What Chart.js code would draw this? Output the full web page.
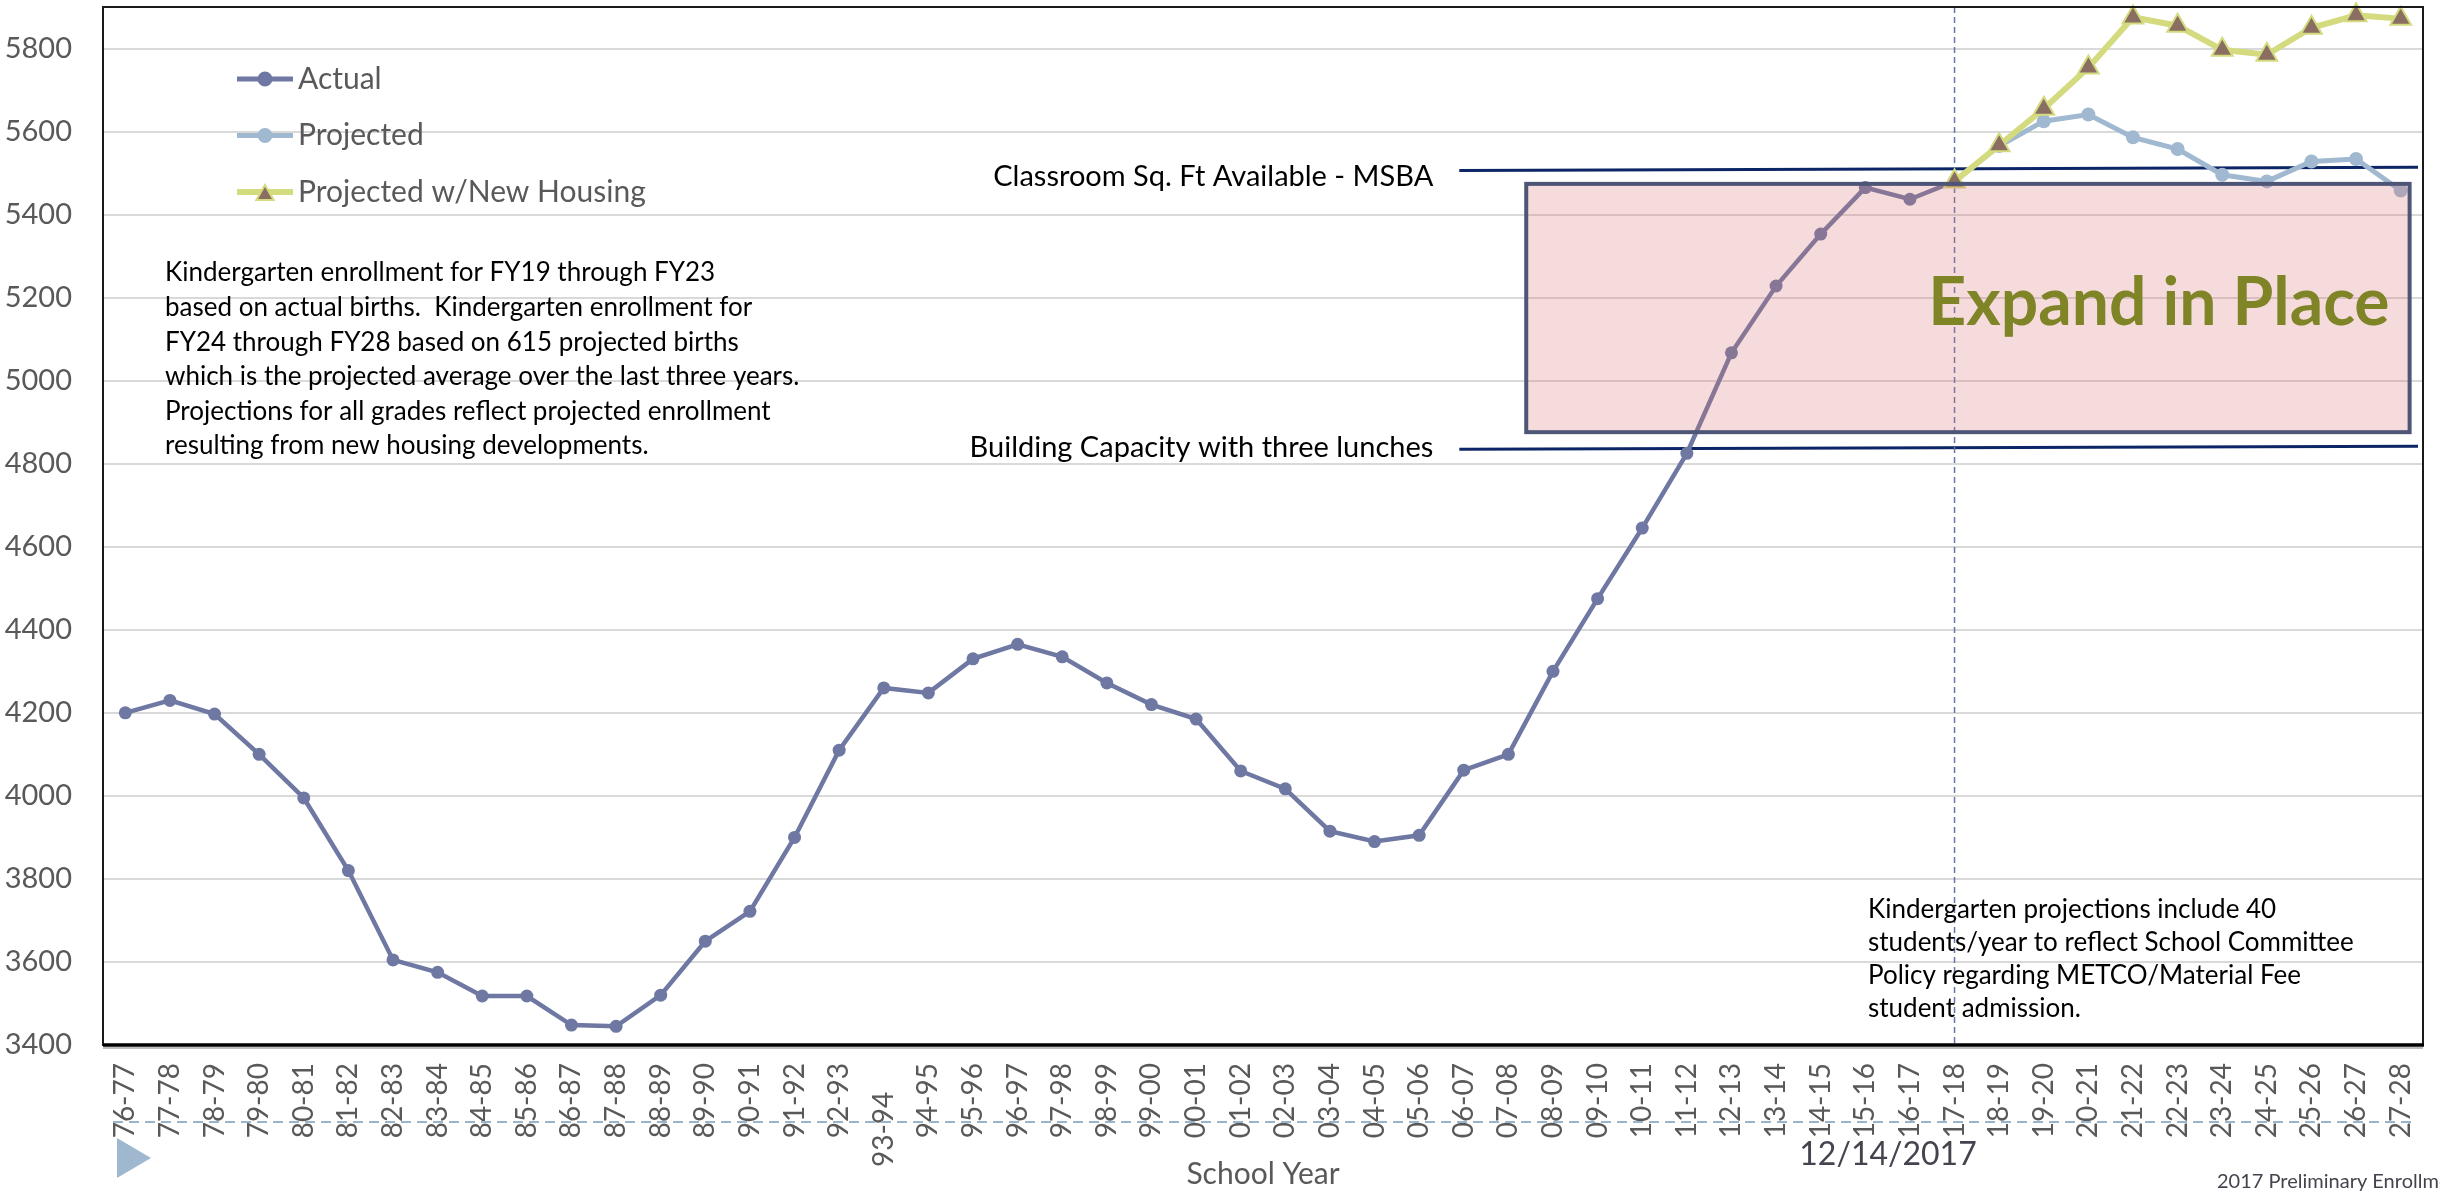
<!DOCTYPE html>
<html lang="en">
<head>
<meta charset="utf-8">
<title>Enrollment by School Year</title>
<script src="https://cdn.jsdelivr.net/npm/chart.js@4.4.1/dist/chart.umd.min.js"></script>
<style>
    html, body { margin: 0; padding: 0; background: #fff; }
    #chartWrap { width: 2440px; height: 1192px; }
</style>
</head>
<body>
<div id="chartWrap"><canvas id="chartEnrollment" width="2440" height="1192"></canvas></div>
<script>
'use strict';

/* ── Data ── */
var SCHOOL_YEARS = [
    '76-77', '77-78', '78-79', '79-80', '80-81', '81-82', '82-83', '83-84', '84-85', '85-86',
    '86-87', '87-88', '88-89', '89-90', '90-91', '91-92', '92-93', '93-94    ', '94-95', '95-96',
    '96-97', '97-98', '98-99', '99-00', '00-01', '01-02', '02-03', '03-04', '04-05', '05-06',
    '06-07', '07-08', '08-09', '09-10', '10-11', '11-12', '12-13', '13-14', '14-15', '15-16',
    '16-17', '17-18', '18-19', '19-20', '20-21', '21-22', '22-23', '23-24', '24-25', '25-26',
    '26-27', '27-28'
];

/* Actual enrollment 76-77 → 17-18 */
var ACTUAL = [
    4200, 4230, 4197, 4100, 3995, 3820, 3605, 3575, 3518, 3518,
    3448, 3445, 3520, 3650, 3722, 3900, 4110, 4260, 4248, 4330,
    4365, 4335, 4272, 4220, 4185, 4060, 4017, 3915, 3890, 3905,
    4062, 4100, 4300, 4475, 4645, 4825, 5067, 5228, 5353, 5465,
    5437, 5480
];

/* Projections 17-18 → 27-28 */
var PROJECTION_START = 41;
var PROJECTED   = [5480, 5565, 5625, 5641, 5586, 5558, 5496, 5480, 5528, 5534, 5458];
var NEW_HOUSING = [5480, 5567, 5655, 5754, 5875, 5855, 5797, 5785, 5850, 5880, 5872];

/* Y axis */
var Y_MIN = 3400;
var Y_MAX = 5900;
var Y_TICKS = [3400, 3600, 3800, 4000, 4200, 4400, 4600, 4800, 5000, 5200, 5400, 5600, 5800];

/* Reference levels (start value, end value) and the "Expand in Place" zone */
var MSBA_LEVEL     = [5506, 5514];
var CAPACITY_LEVEL = [4835, 4842];
var LEVEL_FROM     = 29.9;             // index where the level lines begin
var EXPAND_ZONE    = { from: 31.4, to: 51.2, low: 4876, high: 5474 };

var NOTE_LEFT = [
    'Kindergarten enrollment for FY19 through FY23',
    'based on actual births.  Kindergarten enrollment for',
    'FY24 through FY28 based on 615 projected births',
    'which is the projected average over the last three years.',
    'Projections for all grades reflect projected enrollment',
    'resulting from new housing developments.'
];
var NOTE_RIGHT = [
    'Kindergarten projections include 40',
    'students/year to reflect School Committee',
    'Policy regarding METCO/Material Fee',
    'student admission.'
];

/* ── Palette ── */
var C_ACTUAL    = '#6e78a2';
var C_PROJ      = '#a0b9d0';
var C_HOUSING   = '#d4db7e';
var C_TRIANGLE  = '#8a6e62';
var C_NAVY      = '#0c2566';
var C_TEXT_GRAY = '#595959';
var FONT        = 'Lato, "Open Sans", sans-serif';

Chart.defaults.font.family = FONT;

function projectionPoints(values) {
    return values.map(function (v, i) {
        return { x: SCHOOL_YEARS[PROJECTION_START + i], y: v };
    });
}

/* ── Legend entries (drawn by hand inside the plot) ── */
var LEGEND = [
    { text: 'Actual', color: C_ACTUAL, width: 5, style: 'circle', radius: 6.5, fill: C_ACTUAL, border: C_ACTUAL },
    { text: 'Projected', color: C_PROJ, width: 5, style: 'circle', radius: 6.5, fill: C_PROJ, border: C_PROJ },
    { text: 'Projected w/New Housing', color: C_HOUSING, width: 6, style: 'triangle', radius: 10, fill: C_TRIANGLE, border: C_HOUSING }
];

function drawLevel(ctx, xs, ys, area, level) {
    ctx.beginPath();
    ctx.moveTo(xs.getPixelForValue(LEVEL_FROM), ys.getPixelForValue(level[0]));
    ctx.lineTo(area.right - 5, ys.getPixelForValue(level[1]));
    ctx.stroke();
}

/* No extra room around the scales: the plot box is fixed by hand */
function noScalePadding(scale) {
    scale.paddingTop = 0;
    scale.paddingBottom = 0;
    scale.paddingLeft = 0;
    scale.paddingRight = 0;
}

var decorPlugin = {
    id: 'decor',
    beforeDatasetsDraw: function (chart) {
        var ctx = chart.ctx, xs = chart.scales.x, ys = chart.scales.y, a = chart.chartArea;
        ctx.save();

        /* Level lines */
        ctx.strokeStyle = C_NAVY;
        ctx.lineWidth = 3;
        drawLevel(ctx, xs, ys, a, MSBA_LEVEL);
        drawLevel(ctx, xs, ys, a, CAPACITY_LEVEL);

        /* Vertical dashed "today" line */
        var tx = xs.getPixelForValue(PROJECTION_START);
        ctx.strokeStyle = '#6675a8';
        ctx.lineWidth = 1.5;
        ctx.setLineDash([6, 4]);
        ctx.beginPath();
        ctx.moveTo(tx, a.top);
        ctx.lineTo(tx, a.bottom);
        ctx.stroke();
        ctx.restore();
    },
    afterDatasetsDraw: function (chart) {
        var ctx = chart.ctx, xs = chart.scales.x, ys = chart.scales.y, a = chart.chartArea;
        ctx.save();

        /* Expand in Place box (translucent, over the lines) */
        var bx1 = xs.getPixelForValue(EXPAND_ZONE.from);
        var bx2 = xs.getPixelForValue(EXPAND_ZONE.to);
        var by1 = ys.getPixelForValue(EXPAND_ZONE.high);
        var by2 = ys.getPixelForValue(EXPAND_ZONE.low);
        ctx.fillStyle = 'rgba(214,110,116,0.25)';
        ctx.fillRect(bx1, by1, bx2 - bx1, by2 - by1);
        ctx.strokeStyle = '#4e5677';
        ctx.lineWidth = 4;
        ctx.strokeRect(bx1, by1, bx2 - bx1, by2 - by1);

        ctx.fillStyle = '#7f8426';
        ctx.font = 'bold 66px ' + FONT;
        ctx.textAlign = 'right';
        ctx.textBaseline = 'middle';
        ctx.fillText('Expand in Place', bx2 - 20, (by1 + by2) / 2 - 4);

        /* Level labels */
        var lx = xs.getPixelForValue(LEVEL_FROM) - 26;
        ctx.fillStyle = '#000';
        ctx.font = '29px ' + FONT;
        ctx.fillText('Classroom Sq. Ft Available - MSBA', lx, ys.getPixelForValue(MSBA_LEVEL[0]) + 6);
        ctx.fillText('Building Capacity with three lunches', lx, ys.getPixelForValue(CAPACITY_LEVEL[0]) - 2);

        /* Notes */
        ctx.textAlign = 'left';
        ctx.font = '26px ' + FONT;
        NOTE_LEFT.forEach(function (line, i) {
            ctx.fillText(line, a.left + 62, 273 + i * 34.6);
        });
        NOTE_RIGHT.forEach(function (line, i) {
            ctx.fillText(line, 1868, 910 + i * 33);
        });

        /* Legend */
        LEGEND.forEach(function (item, i) {
            var ly = 79 + i * 56.5;
            ctx.strokeStyle = item.color;
            ctx.lineWidth = item.width;
            ctx.setLineDash([]);
            ctx.beginPath();
            ctx.moveTo(a.left + 134, ly);
            ctx.lineTo(a.left + 190, ly);
            ctx.stroke();
            ctx.fillStyle = item.fill;
            ctx.strokeStyle = item.border;
            ctx.lineWidth = 2;
            Chart.helpers.drawPoint(ctx, {
                pointStyle: item.style, radius: item.radius, borderWidth: 2, rotation: 0
            }, a.left + 162, ly + (item.style === 'triangle' ? 3 : 0));
            ctx.fillStyle = C_TEXT_GRAY;
            ctx.font = '30px ' + FONT;
            ctx.textBaseline = 'middle';
            ctx.fillText(item.text, a.left + 195, ly);
        });

        /* Plot frame */
        ctx.strokeStyle = '#1a1a1a';
        ctx.lineWidth = 2;
        ctx.strokeRect(a.left, a.top, a.right - a.left, a.bottom - a.top);
        ctx.strokeStyle = '#bdbdbd';
        ctx.lineWidth = 2;
        ctx.beginPath();
        ctx.moveTo(a.left, a.bottom + 3);
        ctx.lineTo(a.right, a.bottom + 3);
        ctx.stroke();
        ctx.strokeStyle = '#000';
        ctx.lineWidth = 3.5;
        ctx.beginPath();
        ctx.moveTo(a.left, a.bottom);
        ctx.lineTo(a.right + 1, a.bottom);
        ctx.stroke();

        ctx.restore();
    },
    afterDraw: function (chart) {
        var ctx = chart.ctx, a = chart.chartArea;
        ctx.save();

        /* Slide furniture under the axis */
        ctx.strokeStyle = '#9db3cc';
        ctx.lineWidth = 2;
        ctx.setLineDash([10, 6]);
        ctx.beginPath();
        ctx.moveTo(a.left + 10, 1122);
        ctx.lineTo(a.right - 10, 1122);
        ctx.stroke();

        ctx.fillStyle = '#a0b8cf';
        ctx.beginPath();
        ctx.moveTo(117, 1138);
        ctx.lineTo(151, 1158);
        ctx.lineTo(117, 1178);
        ctx.closePath();
        ctx.fill();

        ctx.fillStyle = '#44444f';
        ctx.textBaseline = 'middle';
        ctx.textAlign = 'center';
        ctx.font = '32px ' + FONT;
        ctx.fillText('12/14/2017', 1888, 1155);
        ctx.textAlign = 'left';
        ctx.font = '20px ' + FONT;
        ctx.fillText('2017 Preliminary Enrollment Projections', 2217, 1182);
        ctx.restore();
    }
};

/* ── Chart ── */
var ctxEl = document.getElementById('chartEnrollment');
var enrollmentChart = new Chart(ctxEl, {
    type: 'line',
    data: {
        labels: SCHOOL_YEARS,
        datasets: [
            {
                label: 'Actual',
                data: ACTUAL,
                borderColor: C_ACTUAL,
                backgroundColor: C_ACTUAL,
                borderWidth: 4.5,
                pointRadius: 6.5,
                pointBorderWidth: 0,
                tension: 0,
                order: 1
            },
            {
                label: 'Projected',
                data: projectionPoints(PROJECTED),
                borderColor: C_PROJ,
                backgroundColor: C_PROJ,
                borderWidth: 5,
                pointRadius: 7,
                pointBorderWidth: 0,
                tension: 0,
                order: 2
            },
            {
                label: 'Projected w/New Housing',
                data: projectionPoints(NEW_HOUSING),
                borderColor: C_HOUSING,
                backgroundColor: C_TRIANGLE,
                pointBackgroundColor: C_TRIANGLE,
                pointBorderColor: C_HOUSING,
                pointStyle: 'triangle',
                borderWidth: 6,
                pointRadius: 12,
                pointBorderWidth: 2,
                tension: 0,
                clip: false,
                order: 0
            }
        ]
    },
    options: {
        responsive: false,
        animation: false,
        devicePixelRatio: 1,
        /* autoPadding would reserve room for the triangle markers (14px) */
        layout: { autoPadding: false, padding: { left: 0, right: 17, top: 7, bottom: 0 } },
        scales: {
            x: {
                offset: true,
                grid: { display: false, drawTicks: false },
                border: { display: false },
                afterFit: function (scale) {
                    scale.height = 147;
                    noScalePadding(scale);
                },
                ticks: {
                    autoSkip: false,
                    maxRotation: 90,
                    minRotation: 90,
                    padding: 18,
                    color: C_TEXT_GRAY,
                    font: { size: 28 }
                },
                title: {
                    display: true,
                    text: 'School Year',
                    color: C_TEXT_GRAY,
                    font: { size: 30 },
                    padding: 0
                }
            },
            y: {
                min: Y_MIN,
                max: Y_MAX,
                afterFit: function (scale) {
                    scale.width = 103;
                    noScalePadding(scale);
                },
                afterBuildTicks: function (scale) {
                    scale.ticks = Y_TICKS.map(function (v) { return { value: v }; });
                    scale.min = Y_MIN;
                    scale.max = Y_MAX;
                },
                /* tick marks are invisible: they only push the labels away from the frame */
                grid: { color: '#d9d9d9', lineWidth: 2, drawTicks: true, tickLength: 31, tickColor: 'rgba(0,0,0,0)' },
                border: { display: false },
                ticks: {
                    padding: 0,
                    color: C_TEXT_GRAY,
                    font: { size: 29 },
                    callback: function (v) { return String(v); }
                }
            }
        },
        plugins: {
            legend: { display: false },
            tooltip: { enabled: false }
        }
    },
    plugins: [decorPlugin]
});
</script>
</body>
</html>
